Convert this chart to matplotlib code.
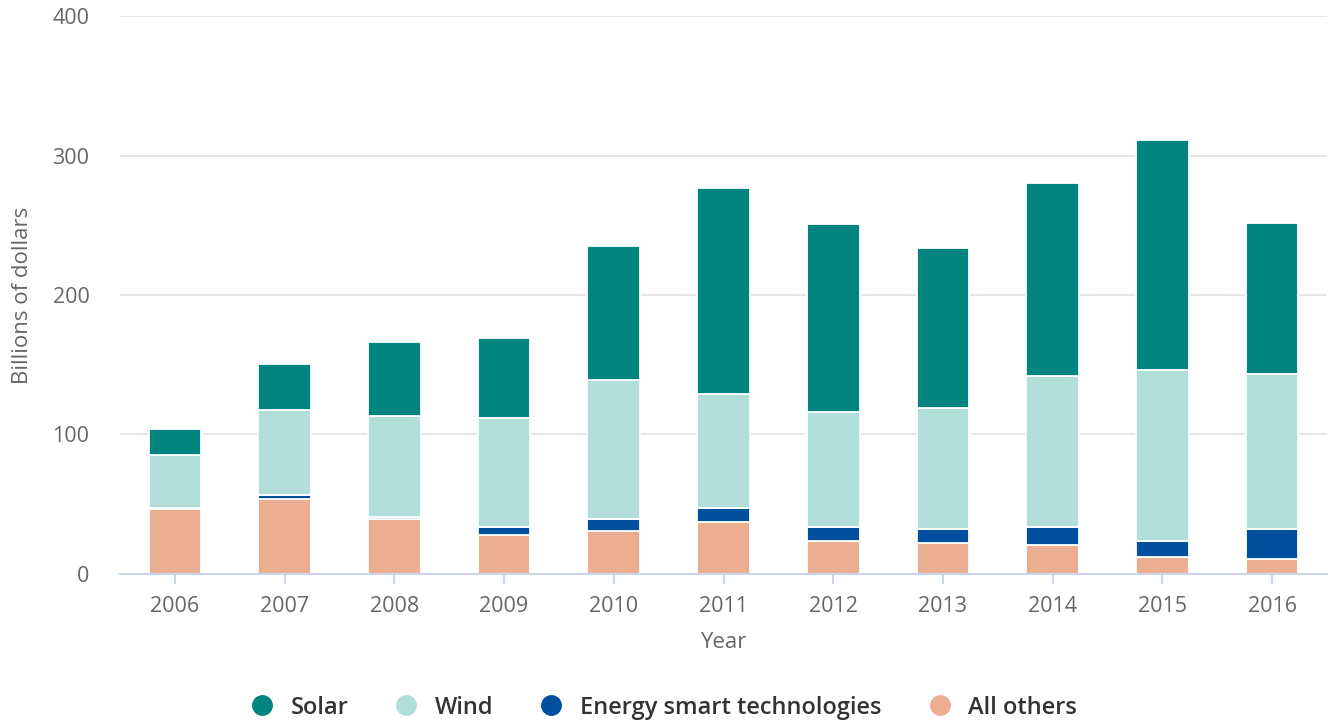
import numpy as np
import matplotlib
matplotlib.use("Agg")
import matplotlib.pyplot as plt
from matplotlib.lines import Line2D

plt.rcParams['font.family'] = ['Open Sans', 'DejaVu Sans']

# values, billions of dollars
years = ["2006", "2007", "2008", "2009", "2010", "2011", "2012", "2013", "2014", "2015", "2016"]
all_others = [46.5, 54, 39.5, 28, 31, 37, 24, 22.5, 21, 12.5, 11]
energy_smart = [1, 2.5, 1.5, 6, 8.5, 10, 10, 10, 13, 11.5, 21.5]
wind = [38, 61, 72, 77.5, 99.5, 82, 82, 86.5, 108, 122, 111]
solar = [18.5, 33, 53, 57.5, 96, 148, 135, 115, 138, 165, 108]

series = [("All others", all_others, "#ecae91"),
          ("Energy smart technologies", energy_smart, "#00509e"),
          ("Wind", wind, "#b1ded9"),
          ("Solar", solar, "#00847f")]

fig = plt.figure(figsize=(13.31, 7.21), dpi=100)
ax = fig.add_axes([0.0902, 0.2039, 0.9068, 0.7739])

x = np.arange(len(years))
bottom = np.zeros(len(years))
for name, vals, col in series:
    ax.bar(x, vals, width=0.48, bottom=bottom, color=col, edgecolor="white", linewidth=1.3, zorder=3)
    bottom += np.array(vals)

ax.set_xlim(-0.5, len(years) - 0.5)
ax.set_ylim(0, 400)
ax.set_yticks([0, 100, 200, 300, 400])
ax.set_xticks(x)
ax.set_xticklabels(years)

ax.grid(axis="y", color="#e6e6e6", linewidth=1.4, zorder=0)
for s in ["top", "right", "left"]:
    ax.spines[s].set_visible(False)
ax.spines["bottom"].set_color("#ccd6eb")
ax.spines["bottom"].set_linewidth(1.5)
ax.spines["bottom"].set_zorder(4)

ax.tick_params(axis="x", length=7, width=1.5, color="#ccd6eb", labelsize=15.5, labelcolor="#666666", pad=9)
ax.tick_params(axis="y", length=0, labelsize=15.5, labelcolor="#666666", pad=22)

ax.set_xlabel("Year", fontsize=16, color="#666666", labelpad=11)
ax.set_ylabel("Billions of dollars", fontsize=16, color="#666666", labelpad=14)

# legend in Solar, Wind, Energy, All others order
handles = []
labels = []
for name, vals, col in series[::-1]:
    handles.append(Line2D([], [], marker="o", linestyle="none", markersize=14, markerfacecolor=col, markeredgecolor=col))
    labels.append(name)
leg = fig.legend(handles, labels, loc="center", bbox_to_anchor=(0.4985, 0.0185), ncol=4, frameon=False,
                 handlelength=1.0, handletextpad=0.72, columnspacing=1.95,
                 prop={"size": 17, "weight": "semibold"})
for t in leg.get_texts():
    t.set_color("#333333")

fig.savefig("out.png", dpi=100)
